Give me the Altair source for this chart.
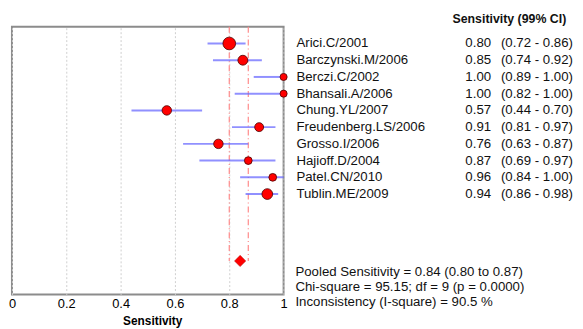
import altair as alt
import pandas as pd

# ---- data ----
studies = ["Arici.C/2001", "Barczynski.M/2006", "Berczi.C/2002", "Bhansali.A/2006",
           "Chung.YL/2007", "Freudenberg.LS/2006", "Grosso.I/2006", "Hajioff.D/2004",
           "Patel.CN/2010", "Tublin.ME/2009"]
sens = [0.80, 0.85, 1.00, 1.00, 0.57, 0.91, 0.76, 0.87, 0.96, 0.94]
ci_low = [0.72, 0.74, 0.89, 0.82, 0.44, 0.81, 0.63, 0.69, 0.84, 0.86]
ci_high = [0.86, 0.92, 1.00, 1.00, 0.70, 0.97, 0.87, 0.97, 1.00, 0.98]
weights = [165, 100, 52, 52, 92, 82, 92, 62, 62, 118]  # relative study weights (marker area)

pooled = 0.84
pooled_low = 0.80
pooled_high = 0.87

header = "Sensitivity (99% CI)"
stats_lines = [
    "Pooled Sensitivity = 0.84 (0.80 to 0.87)",
    "Chi-square = 95.15; df =  9 (p = 0.0000)",
    "Inconsistency (I-square) = 90.5 %",
]
x_ticks = [0, 0.1, 0.2, 0.3, 0.4, 0.5, 0.6, 0.7, 0.8, 0.9, 1.0]
x_title = "Sensitivity"

# ---- tables ----
n = len(studies)
pooled_row = n + 4
df = pd.DataFrame({
    "study": studies,
    "sens": sens,
    "lo": ci_low,
    "hi": ci_high,
    "w": weights,
    "pos": [i + 1 for i in range(n)],
    "val": [f"{v:.2f}" for v in sens],
    "ci": [f"({a:.2f} - {b:.2f})" for a, b in zip(ci_low, ci_high)],
})
pool_df = pd.DataFrame({"sens": [pooled], "pos": [pooled_row]})
vline_df = pd.DataFrame({"x": [pooled_low, pooled_high], "y0": [0, 0], "y1": [pooled_row, pooled_row]})
head_df = pd.DataFrame({"t": [header], "pos": [-0.45]})
stats_df = pd.DataFrame({"t": stats_lines, "pos": [pooled_row + 0.68 + 0.9 * i for i in range(len(stats_lines))]})

FONT = "Liberation Sans"
FS = 13.4
xscale = alt.Scale(domain=[0, 1], nice=False, zero=False)
yscale = alt.Scale(domain=[0, pooled_row + 2], reverse=True, nice=False, zero=False)

xaxis = alt.Axis(
    values=x_ticks,
    labelExpr="round(datum.value*10) % 2 == 0 ? format(datum.value, '~g') : ''",
    title=x_title, titleFontWeight="bold", titleFontSize=12, titlePadding=5, titleX=142,
    labelFontSize=13, labelPadding=3, labelColor="#000", titleColor="#000",
    ticks=False, domain=False, grid=True, gridDash=[2, 2], gridColor="#cfcfcf",
    labelFlush=False,
)

base = alt.Chart(df)

vlines = alt.Chart(vline_df).mark_rule(color="#ff8a8a", strokeWidth=1.2, strokeDash=[6, 3, 1, 3]).encode(
    x=alt.X("x:Q", scale=xscale, axis=xaxis),
    y=alt.Y("y0:Q", scale=yscale, axis=None),
    y2="y1:Q",
)

ci = base.mark_rule(color="#6b6bff", strokeWidth=2, opacity=0.75).encode(
    x=alt.X("lo:Q", scale=xscale),
    x2="hi:Q",
    y=alt.Y("pos:Q", scale=yscale),
)

pts = base.mark_point(filled=True, shape="circle", fill="#ff0000", stroke="#4a0000",
                      strokeWidth=0.8, opacity=1).encode(
    x=alt.X("sens:Q", scale=xscale),
    y=alt.Y("pos:Q", scale=yscale),
    size=alt.Size("w:Q", scale=alt.Scale(domain=[0, 165], range=[0, 165]), legend=None),
)

diamond = alt.Chart(pool_df).mark_point(filled=True, shape="diamond", color="#ff0000",
                                        stroke="#b00000", strokeWidth=0.5, size=130, opacity=1).encode(
    x=alt.X("sens:Q", scale=xscale),
    y=alt.Y("pos:Q", scale=yscale),
)

labels = base.mark_text(align="left", baseline="middle", fontSize=FS, font=FONT, color="#111").encode(
    x=alt.value(288), y=alt.Y("pos:Q", scale=yscale), text="study:N")
vals = base.mark_text(align="left", baseline="middle", fontSize=FS, font=FONT, color="#111").encode(
    x=alt.value(459), y=alt.Y("pos:Q", scale=yscale), text="val:N")
cis = base.mark_text(align="left", baseline="middle", fontSize=FS, font=FONT, color="#111").encode(
    x=alt.value(495), y=alt.Y("pos:Q", scale=yscale), text="ci:N")
head = alt.Chart(head_df).mark_text(align="left", baseline="middle", fontSize=12.5, font=FONT,
                                    fontWeight="bold", color="#111").encode(
    x=alt.value(446), y=alt.Y("pos:Q", scale=yscale), text="t:N")
stats = alt.Chart(stats_df).mark_text(align="left", baseline="middle", fontSize=FS, font=FONT,
                                      color="#111").encode(
    x=alt.value(287), y=alt.Y("pos:Q", scale=yscale), text="t:N")

chart = alt.layer(vlines, ci, pts, diamond, labels, vals, cis, head, stats).properties(
    width=275, height=271,
    autosize=alt.AutoSizeParams(type="none"),
    padding={"left": 4, "top": 17, "right": 295, "bottom": 33},
).configure(font=FONT).configure_view(stroke="#8c8c8c", strokeWidth=2)

chart.save("out.html", embed_options={"renderer": "svg", "actions": False})
